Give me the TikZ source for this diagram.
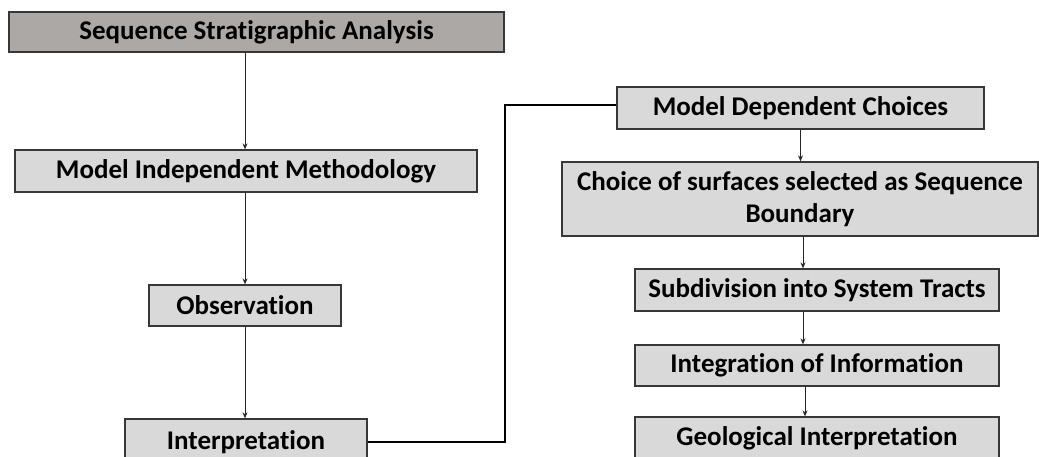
\documentclass[tikz,border=0pt]{standalone}
\usepackage{fontspec}
\setmainfont{Carlito}[Ligatures=NoCommon]
\usetikzlibrary{arrows.meta}
\definecolor{boxlight}{RGB}{217,217,217}
\definecolor{boxdark}{RGB}{171,168,166}
\definecolor{edge}{RGB}{55,55,55}
\tikzset{
  stagebox/.style={draw=edge, line width=1.3pt, fill=boxlight, inner sep=0pt,
    align=center, font=\bfseries\fontsize{27}{32}\selectfont},
  flowarrow/.style={draw=black!85, line width=0.9pt, -{Stealth[length=6pt,width=5pt]}},
  linkline/.style={draw=black, line width=1.5pt},
}
\begin{document}
\begin{tikzpicture}[x=1pt,y=-1pt]
\useasboundingbox (0,0) rectangle (1039,456);
\clip (0,0) rectangle (1039,456);
\node[stagebox, fill=boxdark, minimum width=495pt, minimum height=40pt] (seq) at (256.5,32) {Sequence Stratigraphic Analysis};
\node[stagebox, minimum width=462pt, minimum height=42pt] (mim) at (246,171) {Model Independent Methodology};
\node[stagebox, minimum width=192pt, minimum height=41pt] (obs) at (245,305.5) {Observation};
\node[stagebox, minimum width=242pt, minimum height=46pt] (interp) at (246,442) {Interpretation};
\node[stagebox, minimum width=367pt, minimum height=42pt] (mdc) at (800.5,108) {Model Dependent Choices};
\node[stagebox, minimum width=476pt, minimum height=74pt] (choice) at (800,199) {Choice of surfaces selected as Sequence\\Boundary};
\node[stagebox, minimum width=364pt, minimum height=42pt] (sub) at (817,290) {Subdivision into System Tracts};
\node[stagebox, minimum width=364pt, minimum height=41pt] (integ) at (817,365.5) {Integration of Information};
\node[stagebox, minimum width=364pt, minimum height=42pt] (geo) at (817,438) {Geological Interpretation};
\coordinate (bend) at (505,105);
\draw[flowarrow] (seq.south -| obs.north) -- (mim.north -| obs.north);
\draw[flowarrow] (mim.south -| obs.north) -- (obs.north);
\draw[flowarrow] (obs.south) -- (interp.north -| obs.south);
\draw[flowarrow] (mdc.south) -- (choice.north -| mdc.south);
\draw[flowarrow] ([xshift=3pt]choice.south) -- ([xshift=3pt]choice.south |- sub.north);
\draw[flowarrow] ([xshift=-14pt]sub.south) -- ([xshift=-14pt]sub.south |- integ.north);
\draw[flowarrow] ([xshift=-12pt]integ.south) -- ([xshift=-12pt]integ.south |- geo.north);
\draw[linkline] (interp.east) -| (bend) -- (bend -| mdc.west);
\end{tikzpicture}
\end{document}
